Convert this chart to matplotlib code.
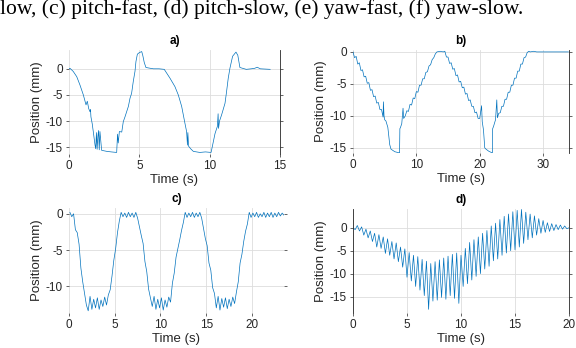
import numpy as np
import matplotlib
matplotlib.use("Agg")
import matplotlib.pyplot as plt

# Panel a: position (mm) vs time (s)
time_a = [0.0, 0.07, 0.3, 0.55, 0.78, 1.02, 1.21, 1.3, 1.4, 1.49, 1.53, 1.56, 1.65, 1.73,
          1.85, 1.9, 1.95, 2.0, 2.05, 2.1, 2.15, 2.2, 2.32, 2.7, 3.0, 3.39, 3.45, 3.5, 3.58,
          3.75, 3.86, 3.98, 4.22, 4.34, 4.45, 4.57, 4.69, 4.76, 4.86, 5.0, 5.17, 5.25, 5.35,
          5.47, 6.0, 6.4, 6.77, 7.18, 7.53, 7.77, 8.01, 8.24, 8.36, 8.42, 8.45, 8.5, 8.65,
          8.84, 9.3, 9.7, 10.1, 10.21, 10.38, 10.55, 10.6, 10.63, 10.7, 10.85, 11.09, 11.2,
          11.32, 11.44, 11.63, 11.87, 12.0, 12.15, 12.6, 12.96, 13.2, 13.38, 13.6, 14.3]
pos_a = [0.0, 0.1, -0.5, -1.5, -3.1, -5.0, -6.9, -6.2, -7.6, -8.2, -7.8, -9.2, -10.5, -12.1,
         -14.6, -15.3, -12.2, -15.4, -13.0, -11.8, -15.5, -12.0, -15.6, -15.8, -15.9, -16.0,
         -12.5, -14.2, -12.0, -12.1, -10.1, -9.2, -7.2, -5.6, -4.7, -2.4, -0.5, 1.4, 2.8,
         3.1, 3.3, 2.5, 1.2, 0.25, 0.0, 0.0, -0.1, -1.8, -3.4, -5.0, -7.2, -10.4, -12.0,
         -14.6, -12.2, -14.8, -15.3, -15.8, -16.0, -15.9, -16.0, -14.6, -12.4, -11.0, -8.6,
         -11.4, -10.0, -8.8, -6.6, -4.4, -1.8, 0.1, 2.4, 3.2, 2.6, 0.25, -0.1, 0.0, 0.1,
         0.3, 0.0, -0.1]

# Panel b
time_b = [0.0, 0.25, 0.5, 0.75, 1.0, 1.25, 1.5, 1.75, 2.0, 2.25, 2.5, 2.75, 3.0, 3.25, 3.5,
          3.75, 4.0, 4.25, 4.5, 4.75, 4.8, 4.9, 5.0, 5.2, 5.5, 5.8, 6.0, 6.3, 6.6, 7.0, 7.35,
          7.4, 7.5, 7.7, 7.9, 8.0, 8.25, 8.5, 8.75, 9.0, 9.25, 9.5, 9.75, 10.0, 10.25, 10.5,
          10.75, 11.0, 11.25, 11.5, 11.75, 12.0, 12.25, 12.5, 12.75, 13.0, 13.25, 13.75,
          14.25, 14.5, 14.75, 15.0, 15.25, 15.5, 15.75, 16.0, 16.25, 16.5, 16.75, 17.0,
          17.25, 17.5, 17.75, 18.0, 18.25, 18.5, 18.75, 19.0, 19.25, 19.5, 19.75, 20.0,
          20.3, 20.4, 20.6, 20.8, 21.0, 21.4, 21.8, 22.0, 22.05, 22.2, 22.5, 22.7, 22.8,
          23.0, 23.25, 23.5, 23.75, 24.0, 24.25, 24.5, 24.75, 25.0, 25.25, 25.5, 25.75,
          26.0, 26.25, 26.5, 26.75, 27.0, 27.25, 27.5, 27.75, 28.0, 28.5, 29.0, 34.0]
pos_b = [0.0, -0.9, -0.7, -1.9, -1.7, -2.9, -2.8, -3.9, -3.8, -4.9, -4.8, -6.0, -5.9, -7.0,
         -6.9, -8.0, -7.9, -9.0, -9.0, -10.2, -7.8, -10.0, -10.6, -10.8, -11.8, -14.5,
         -15.2, -15.4, -15.6, -15.7, -15.8, -12.0, -11.8, -11.2, -8.8, -10.4, -10.0, -9.2,
         -9.3, -8.2, -8.3, -7.2, -7.3, -6.2, -6.3, -5.2, -5.2, -4.2, -4.2, -3.2, -3.1,
         -2.2, -2.0, -1.2, -0.9, -0.3, 0.0, 0.1, 0.0, 0.1, -0.8, -0.8, -1.8, -1.7, -2.7,
         -2.6, -3.7, -3.6, -4.7, -4.6, -5.6, -5.5, -6.6, -6.5, -7.6, -7.5, -8.5, -8.5,
         -9.5, -9.4, -10.4, -10.4, -8.4, -10.9, -12.2, -15.0, -15.2, -15.5, -15.7, -15.8,
         -12.0, -11.6, -10.6, -7.5, -10.3, -9.6, -9.5, -8.5, -8.5, -7.4, -7.4, -6.3, -6.3,
         -5.2, -5.2, -4.1, -4.1, -3.0, -3.0, -1.9, -1.9, -0.9, -0.8, -0.1, 0.1, 0.0, 0.1,
         0.0, 0.0]

# Panel c, sampled every 0.2 s starting at 0.1 s
pos_c = [0.2, -0.4, 0.0, -2.2, -2.6, -4.2, -7.5, -9.4, -11.0, -12.6,
         -13.4, -11.4, -13.2, -11.8, -13.0, -11.6, -13.2, -11.9, -12.8, -11.5, -12.6, -11.2,
         -10.5, -8.6, -6.4, -4.8, -2.6, -1.0,
         0.2, -0.4, 0.1, -0.5, 0.2, -0.4, 0.1, -0.5, 0.2, -0.6,
         -1.8, -3.0, -4.1, -6.6, -8.0, -10.4, -11.6,
         -12.8, -11.4, -13.2, -11.8, -13.0, -11.6, -13.3, -11.9, -12.9, -11.5, -12.2,
         -9.6, -8.2, -6.0, -4.8, -3.6, -2.3, -1.2,
         0.2, -0.5, 0.1, -0.4, 0.2, -0.5, 0.1, -0.4, 0.2, -0.6,
         -2.0, -3.4, -4.4, -6.8, -7.8, -10.2, -11.0,
         -13.0, -11.4, -13.3, -11.7, -12.9, -11.6, -13.1, -11.8, -12.8, -11.5, -12.4, -10.8,
         -9.4, -6.8, -5.6, -3.8, -2.4, -1.4,
         0.2, -0.5, 0.1, -0.4, 0.2, -0.5, 0.0, -0.4, 0.2, -0.5,
         0.1, -0.4, 0.2, -0.5, 0.1, -0.4, 0.2, -0.3, 0.1, -0.2]
time_c = 0.1 + 0.2 * np.arange(len(pos_c))

# Panel d, sampled every 0.2 s
pos_d = [0.0, -0.4, 0.5, -0.7, 0.2, -1.6, -0.3, -2.2, -0.7, -3.0,
         -1.2, -4.2, -1.5, -4.5, -2.0, -5.6, -2.4, -6.0, -3.0, -6.8,
         -3.3, -7.4, -4.2, -8.6, -4.6, -10.8, -5.4, -11.6, -6.0, -12.8,
         -6.3, -13.6, -6.9, -14.8, -7.3, -17.8, -7.8, -16.0, -7.4, -15.8,
         -7.0, -15.2, -6.6, -15.6, -6.2, -14.8, -5.8, -15.4, -5.5, -16.5,
         -6.0, -12.8, -4.5, -12.2, -3.2, -11.4, -2.6, -10.6, -2.0, -10.0,
         -1.2, -9.0, -0.6, -8.4, 0.4, -7.2, 1.0, -6.8, 1.8, -6.0,
         2.5, -5.5, 3.0, -5.0, 3.5, -4.8, 3.8, -4.2, 4.0, -3.4,
         3.4, -2.6, 3.0, -2.2, 2.6, -1.6, 2.0, -1.2, 1.6, -1.0,
         1.1, -0.8, 0.9, -0.6, 0.7, -0.4, 0.6, -0.3, 0.4, -0.2, 0.0]
time_d = 0.2 * np.arange(len(pos_d))

caption = "low, (c) pitch-fast, (d) pitch-slow, (e) yaw-fast, (f) yaw-slow."

W, H = 576, 348
LINE = "#0072BD"
TXT = "#262626"

plt.rcParams["font.family"] = ["Liberation Sans", "DejaVu Sans"]

fig = plt.figure(figsize=(W / 100, H / 100), dpi=100)
fig.text(0.0, 1 - 14 / H, caption, family="Liberation Serif", fontsize=15.5,
         ha="left", va="baseline", color="black")


def make_axes(px_left, px_top, px_right, px_bottom):
    return fig.add_axes([px_left / W, 1 - px_bottom / H,
                         (px_right - px_left) / W, (px_bottom - px_top) / H])


panels = [
    ("a)", time_a, pos_a, (69, 50, 280, 154), (0, 15), (-16.3, 3.6), [0, 5, 10, 15], [0, -5, -10, -15], ["right"]),
    ("b)", time_b, pos_b, (353, 50, 569, 153), (0, 34.1), (-15.8, 0.3), [0, 10, 20, 30], [0, -5, -10, -15], ["right"]),
    ("c)", time_c, pos_c, (69, 208, 284, 313), (0, 23.5), (-13.7, 0.8), [0, 5, 10, 15, 20], [0, -5, -10], []),
    ("d)", time_d, pos_d, (353, 209, 569, 313), (0, 20), (-18.6, 4.1), [0, 5, 10, 15, 20], [0, -5, -10, -15], ["left", "right"]),
]

for title, t, y, box, xl, yl, xt, yt, shown in panels:
    ax = make_axes(*box)
    ax.plot(t, y, color=LINE, lw=0.5)
    ax.set_xlim(*xl)
    ax.set_ylim(*yl)
    ax.set_xticks(xt)
    ax.set_yticks(yt)
    ax.set_yticklabels([str(v) for v in yt])
    ax.grid(True, color="#dddddd", lw=0.6)
    ax.set_axisbelow(True)
    for side in ["left", "right", "top", "bottom"]:
        ax.spines[side].set_visible(side in shown)
        ax.spines[side].set_color(TXT)
        ax.spines[side].set_linewidth(0.6)
    ax.tick_params(axis="both", labelsize=8.5, colors=TXT, length=2.5, width=0.5,
                   direction="out", pad=2)
    ax.tick_params(axis="y", right=True)
    ax.set_xlabel("Time (s)", fontsize=9.5, color=TXT, labelpad=1)
    ax.set_ylabel("Position (mm)", fontsize=9.5, color=TXT, labelpad=2)
    ax.set_title(title, fontsize=8.5, fontweight="bold", color="black", pad=4)

fig.savefig("out.png", dpi=100)
